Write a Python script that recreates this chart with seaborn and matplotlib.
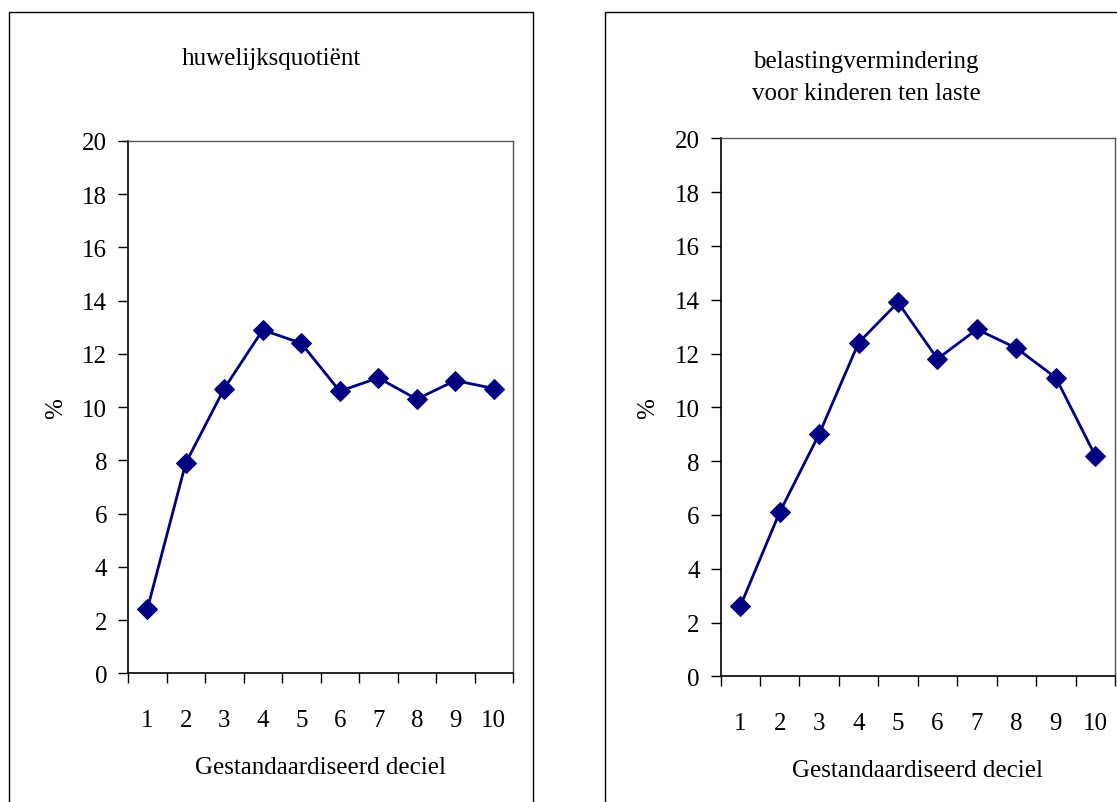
import matplotlib
matplotlib.use("Agg")
import matplotlib.pyplot as plt
from matplotlib.patches import Rectangle
from matplotlib.ticker import FixedLocator, NullFormatter
import seaborn as sns
import pandas as pd

deciles = [1, 2, 3, 4, 5, 6, 7, 8, 9, 10]
huwelijksquotient = [2.4, 7.9, 10.7, 12.9, 12.4, 10.6, 11.1, 10.3, 11.0, 10.7]
kinderen_ten_laste = [2.6, 6.1, 9.0, 12.4, 13.9, 11.8, 12.9, 12.2, 11.1, 8.2]
y_ticks = [0, 2, 4, 6, 8, 10, 12, 14, 16, 18, 20]
title_left = "huwelijksquotiënt"
title_right = "belastingvermindering\nvoor kinderen ten laste"
x_label = "Gestandaardiseerd deciel"
y_label = "%"

FS = 18

sns.set_theme(style="white")
plt.rcParams['font.family'] = ['Liberation Serif', 'DejaVu Serif']
plt.rcParams['font.size'] = FS
plt.rcParams['text.color'] = 'black'
plt.rcParams['axes.labelcolor'] = 'black'
plt.rcParams['xtick.color'] = 'black'
plt.rcParams['ytick.color'] = 'black'

W, H = 1117, 803
fig = plt.figure(figsize=(W / 100, H / 100), dpi=100)
fig.patch.set_facecolor("white")


def px_axes(left, top, right, bottom):
    return fig.add_axes([left / W, 1 - bottom / H, (right - left) / W, (bottom - top) / H])


def style_axes(ax, values, ylabel_x_px, xlabel_y_px, left_px, bottom_px, top_px):
    df = pd.DataFrame({"deciel": deciles, "pct": values})
    sns.lineplot(data=df, x="deciel", y="pct", ax=ax, color="#000080", linewidth=2,
                 marker="D", markersize=10, markeredgecolor="#000080")
    ax.set_xlim(0.5, 10.5)
    ax.set_ylim(0, 20)
    ax.set_yticks(y_ticks)
    ax.set_yticklabels([str(v) for v in y_ticks])
    ax.xaxis.set_major_locator(FixedLocator([d - 0.5 for d in deciles] + [10.5]))
    ax.xaxis.set_major_formatter(NullFormatter())
    ax.set_xticks(deciles, minor=True)
    ax.set_xticklabels([str(d) for d in deciles], minor=True)
    ax.tick_params(axis="x", which="major", direction="out", length=7, width=1, color="black", bottom=True)
    ax.tick_params(axis="x", which="minor", length=0, pad=26, labelsize=FS, bottom=True)
    ax.tick_params(axis="y", which="major", direction="out", length=7, width=1, color="black",
                   pad=8, labelsize=FS, left=True)
    ax.grid(False)
    for side in ["left", "bottom"]:
        ax.spines[side].set_color("black")
        ax.spines[side].set_linewidth(1.2)
    for side in ["top", "right"]:
        ax.spines[side].set_color("#555555")
        ax.spines[side].set_linewidth(1.0)
    ax.set_xlabel(x_label, fontsize=FS)
    ax.set_ylabel(y_label, fontsize=FS)
    height = bottom_px - top_px
    width_px = ax.get_position().width * W
    ax.yaxis.set_label_coords((ylabel_x_px - left_px) / width_px, 0.5)
    ax.xaxis.set_label_coords(0.5, (bottom_px - xlabel_y_px) / height)


ax1 = px_axes(128, 142, 513, 674.3)
style_axes(ax1, huwelijksquotient, 67, 757, 128, 674.3, 142)
ax2 = px_axes(720.5, 139.3, 1115, 677.3)
style_axes(ax2, kinderen_ten_laste, 659, 760, 720.5, 677.3, 139.3)

fig.text(271 / W, 1 - 59 / H, title_left, ha="center", va="center", fontsize=FS)
fig.text(866 / W, 1 - 78 / H, title_right, ha="center", va="center", fontsize=FS, linespacing=1.6)

fig.patches.append(Rectangle((9.5 / W, -0.02), (533 - 9.5) / W, 1.02 - 12.7 / H,
                             transform=fig.transFigure, fill=False, edgecolor="black", linewidth=1))
fig.patches.append(Rectangle((604.5 / W, -0.02), (1130 - 604.5) / W, 1.02 - 12.7 / H,
                             transform=fig.transFigure, fill=False, edgecolor="black", linewidth=1))

fig.savefig("out.png", dpi=100, facecolor="white")
